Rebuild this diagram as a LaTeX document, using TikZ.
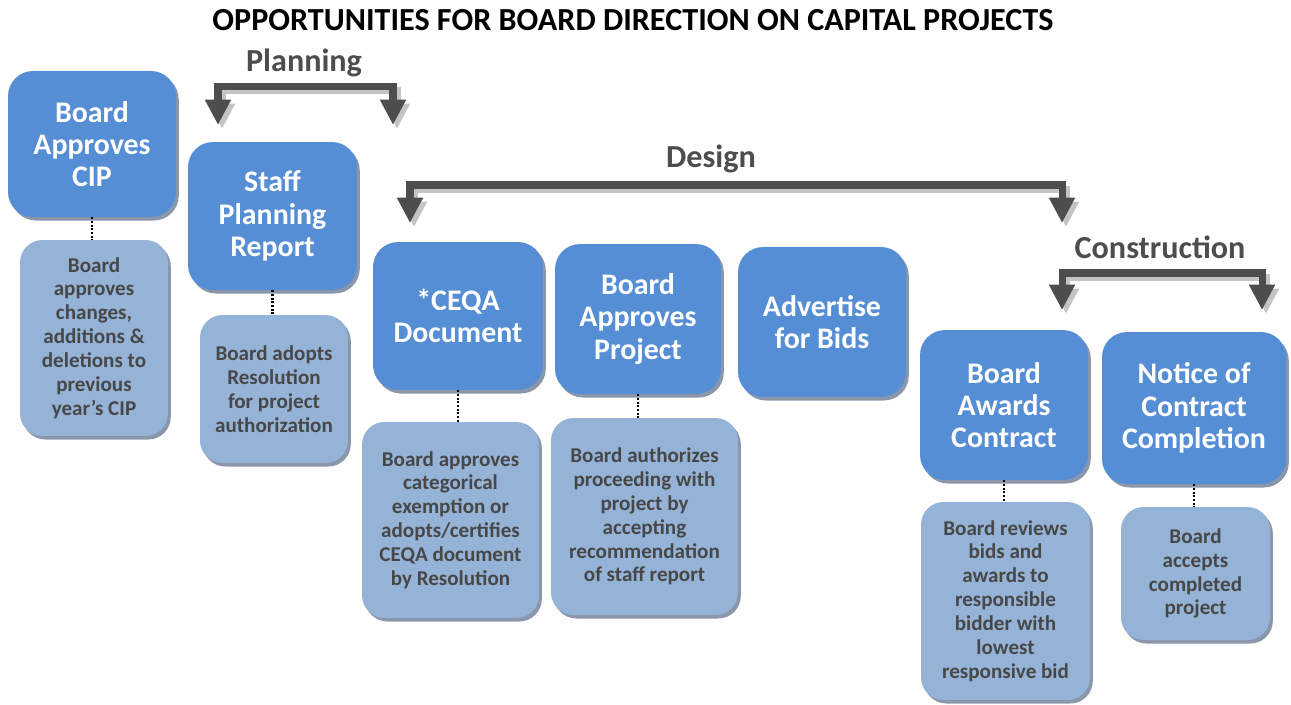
\documentclass[tikz,border=0pt]{standalone}
\usepackage{fontspec}
\setmainfont{Carlito}
\usetikzlibrary{arrows.meta,shadows}
\definecolor{stepblue}{HTML}{558ED5}
\definecolor{noteblue}{HTML}{95B3D7}
\definecolor{edgegray}{HTML}{8A97AB}
\definecolor{bardark}{HTML}{4D4D4D}
\definecolor{barlight}{HTML}{C4C4C4}
\definecolor{notetext}{HTML}{474747}

\begin{document}
\begin{tikzpicture}[x=0.02cm,y=-0.02cm,
  stage/.style={rectangle,rounded corners=0.5cm,fill=stepblue,text=white,align=center,
    font=\bfseries\fontsize{17}{18.4}\selectfont,
    drop shadow={shadow xshift=1.6pt,shadow yshift=-2pt,fill=edgegray,opacity=1}},
  note/.style={stage,rounded corners=0.45cm,fill=noteblue,text=notetext,
    font=\bfseries\fontsize{12}{13.6}\selectfont},
  phase/.style={font=\bfseries\fontsize{18.3}{21}\selectfont,text=bardark},
  link/.style={line width=1.4pt,dash pattern=on 1.1pt off 1pt},
  bracket/.style={line width=4pt,bardark,
    {Triangle[width=14pt,length=14.5pt]}-{Triangle[width=14pt,length=14.5pt]}},
  bracketshade/.style={bracket,barlight,transform canvas={xshift=2.3pt,yshift=-2.3pt}}]
\useasboundingbox (0,0) rectangle (1291,704);

\node[font=\bfseries\fontsize{18.3}{21}\selectfont] (title) at (633,20) {OPPORTUNITIES FOR BOARD DIRECTION ON CAPITAL PROJECTS};
\node[phase] (planning) at (304,63) {Planning};
\node[phase] (design) at (711,159) {Design};
\node[phase] (construction) at (1160,247) {Construction};

\coordinate (plan-l) at (218,125);
\coordinate (plan-r) at (393,125);
\coordinate (plan-bar) at (305,86.5);
\coordinate (design-l) at (410,223);
\coordinate (design-r) at (1062,223);
\coordinate (design-bar) at (736,185);
\coordinate (build-l) at (1062,310);
\coordinate (build-r) at (1262,310);
\coordinate (build-bar) at (1162,273);

\draw[bracketshade] (plan-l) |- (plan-bar) -| (plan-r);
\draw[bracketshade] (design-l) |- (design-bar) -| (design-r);
\draw[bracketshade] (build-l) |- (build-bar) -| (build-r);
\draw[bracket] (plan-l) |- (plan-bar) -| (plan-r);
\draw[bracket] (design-l) |- (design-bar) -| (design-r);
\draw[bracket] (build-l) |- (build-bar) -| (build-r);

\node[stage,minimum width=3.36cm,minimum height=2.92cm] (cip) at (92,144) {Board\\Approves\\CIP};
\node[stage,minimum width=3.38cm,minimum height=2.96cm] (report) at (272.5,216) {Staff\\Planning\\Report};
\node[stage,minimum width=3.4cm,minimum height=2.96cm] (ceqa) at (458,316) {*CEQA\\Document};
\node[stage,minimum width=3.32cm,minimum height=3cm] (project) at (638,319) {Board\\Approves\\Project};
\node[stage,minimum width=3.36cm,minimum height=3cm] (bids) at (822,322) {Advertise\\for Bids};
\node[stage,minimum width=3.36cm,minimum height=3cm] (award) at (1004,405) {Board\\Awards\\Contract};
\node[stage,minimum width=3.68cm,minimum height=3.04cm] (notice) at (1194,408) {Notice of\\Contract\\Completion};

\node[note,minimum width=2.96cm,minimum height=3.92cm] (cip-note) at (94,338) {Board\\approves\\changes,\\additions \&\\deletions to\\previous\\year’s CIP};
\node[note,minimum width=2.96cm,minimum height=2.96cm] (report-note) at (274,389) {Board adopts\\Resolution\\for project\\authorization};
\node[note,minimum width=3.54cm,minimum height=3.92cm] (ceqa-note) at (450.5,520) {Board approves\\categorical\\exemption or\\adopts/certifies\\CEQA document\\by Resolution};
\node[note,minimum width=3.74cm,minimum height=3.94cm] (project-note) at (644.5,516.5) {Board authorizes\\proceeding with\\project by\\accepting\\recommendation\\of staff report};
\node[note,minimum width=3.38cm,minimum height=3.96cm] (award-note) at (1005.5,601) {Board reviews\\bids and\\awards to\\responsible\\bidder with\\lowest\\responsive bid};
\node[note,minimum width=2.98cm,minimum height=2.66cm] (notice-note) at (1195.5,573.5) {Board\\accepts\\completed\\project};

\draw[link] (cip.south) -- (cip.south |- cip-note.north);
\draw[link] (report.south) -- (report.south |- report-note.north);
\draw[link] (ceqa.south) -- (ceqa.south |- ceqa-note.north);
\draw[link] (project.south) -- (project.south |- project-note.north);
\draw[link] (award.south) -- (award.south |- award-note.north);
\draw[link] (notice.south) -- (notice.south |- notice-note.north);

\end{tikzpicture}
\end{document}
